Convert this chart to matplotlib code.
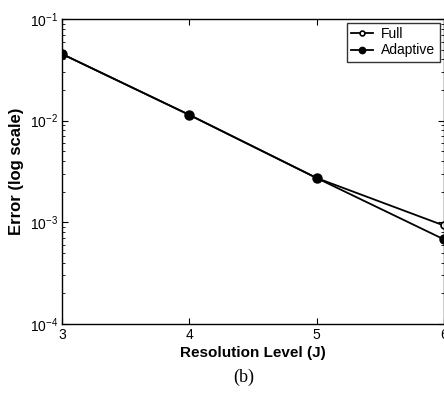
import matplotlib.pyplot as plt
import numpy as np

# values
levels = [3, 4, 5, 6]
err_full = [0.0453, 0.0114, 0.00273, 0.00093]
err_adaptive = [0.0453, 0.0114, 0.00273, 0.00068]
x_ticks = [3, 4, 5, 6]

plt.rcParams['font.family'] = ['Liberation Sans', 'DejaVu Sans']

fig = plt.figure(figsize=(4.44, 3.96), dpi=100)
ax = fig.add_axes([0.1396, 0.182, 0.86, 0.770])

ax.plot(levels, err_full, '-', color='black', lw=1.3, marker='o',
        markersize=5, markerfacecolor='white', markeredgecolor='black',
        markeredgewidth=1.2, label='Full')
ax.plot(levels, err_adaptive, '-', color='black', lw=1.3, marker='.',
        markersize=13, label='Adaptive')

ax.set_yscale('log')
ax.set_xlim(3, 6)
ax.set_ylim(1e-4, 1e-1)
ax.set_xticks(x_ticks)
ax.set_yticks([1e-4, 1e-3, 1e-2, 1e-1])
ax.tick_params(which='both', direction='in', top=True, right=True,
               labelsize=10, pad=3)
ax.tick_params(which='major', length=4)
ax.tick_params(which='minor', length=2)
for s in ax.spines.values():
    s.set_linewidth(1.0)

ax.set_xlabel('Resolution Level (J)', fontsize=11, fontweight='bold', labelpad=3)
ax.set_ylabel('Error (log scale)', fontsize=12, fontweight='bold', labelpad=4)

leg = ax.legend(loc='upper right', fontsize=10, frameon=True, fancybox=False,
                edgecolor='black', handlelength=1.6, borderpad=0.3,
                labelspacing=0.15, handletextpad=0.6, borderaxespad=0.3,
                markerscale=0.7)
leg.get_frame().set_linewidth(1.0)

fig.text(0.55, 0.048, '(b)', fontsize=13, ha='center', va='center',
         family=['Liberation Serif', 'DejaVu Serif'])

plt.savefig('out.png', dpi=100)
